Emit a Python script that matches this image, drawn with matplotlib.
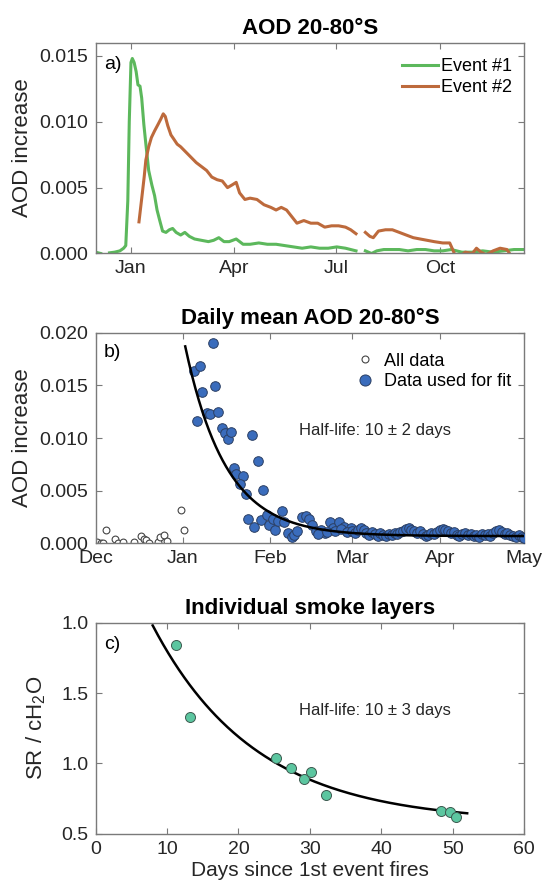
import numpy as np
import matplotlib
matplotlib.use('Agg')
import matplotlib.pyplot as plt
from matplotlib.lines import Line2D

plt.rcParams['font.family'] = ['Liberation Sans', 'DejaVu Sans']
plt.rcParams['mathtext.fontset'] = 'custom'
plt.rcParams['mathtext.rm'] = 'Liberation Sans'
plt.rcParams['mathtext.it'] = 'Liberation Sans'
plt.rcParams['mathtext.default'] = 'regular'

# ---- a) AOD increase per event, days since 1 Jan 2020 (NaN = no data) ----
event1_day = [-31.4, -26.8, -25, -19, -14.5, -9.8, -6.5, -4.6, -2.8, -1.5, 0, 1.2, 2.8, 4.6,
              6.2, 8, 9.5, 11.4, 13.2, 15.7, 18.5, 20.9, 23.1, 25.5, 28, 31, 34, 36.9, 40,
              44, 47.7, 51.7, 56.3, 62.4, 68.6, 73.2, 77.8, 82.4, 87, 93.2, 99.3, 105.5,
              113.2, 120.8, 128.5, 136.2, 143.9, 151.6, 159.3, 167, 174.7, 182.3, 190,
              199.3, 203, 207.6, 213.1, 217.7, 223.9, 230, 237.7, 245.4, 253.1, 260.8,
              268.5, 276.1, 283.8, 293, 302.3, 311.5, 320.7, 330, 339.2, 348.4]
event1_aod = [0.0001, 0.0, np.nan, 0.00005, 0.0001, 0.0002, 0.0004, 0.0006, 0.004, 0.010,
              0.0145, 0.0148, 0.0145, 0.0138, 0.0128, 0.0127, 0.0118, 0.0098, 0.0083,
              0.0063, 0.0052, 0.0044, 0.0033, 0.0025, 0.0017, 0.0016, 0.0018, 0.0019,
              0.0016, 0.0014, 0.0016, 0.0013, 0.0011, 0.0010, 0.0009, 0.0010, 0.0012,
              0.0009, 0.0009, 0.0011, 0.0007, 0.0007, 0.0008, 0.0007, 0.0007, 0.0006,
              0.0005, 0.0004, 0.0005, 0.0004, 0.0004, 0.0005, 0.0004, 0.0002, np.nan,
              0.0002, 0.0, 0.0002, 0.0003, 0.0003, 0.0003, 0.0002, 0.0003, 0.0003, 0.0002,
              0.0002, 0.0003, 0.0001, 0.0001, 0.0002, 0.0001, 0.0002, 0.0003, 0.0003]

event2_day = [7.1, 8.6, 10.1, 11.7, 13.2, 15.7, 18.1, 20.9, 24, 26.4, 28.6, 30.4, 32.6, 35.4,
              37.8, 40.9, 44, 48.6, 53.2, 57.8, 62.4, 67, 71.6, 76.3, 80.9, 85.5, 89.5, 93.2,
              96.2, 100.9, 105.5, 111.6, 117.8, 123.9, 128.5, 133.1, 137.8, 142.4, 147,
              153.1, 159.3, 165.4, 171.6, 177.7, 183.9, 190, 194.6, 199.3, 203, 207.6,
              211.6, 214.6, 219.2, 225.4, 231.5, 237.7, 243.8, 250, 256.1, 262.3, 268.5,
              276.1, 282.3, 284.4, 286.9, 291.5, 296.1, 302.3, 306, 310, 314.6, 320.7,
              326.9, 333, 336.1]
event2_aod = [0.0024, 0.0035, 0.0046, 0.0058, 0.0071, 0.0081, 0.0088, 0.0093, 0.0098, 0.0102,
              0.0106, 0.0104, 0.0097, 0.0090, 0.0087, 0.0083, 0.0081, 0.0077, 0.0073,
              0.0069, 0.0066, 0.0063, 0.0058, 0.0056, 0.0055, 0.0050, 0.0052, 0.0054,
              0.0046, 0.0041, 0.0042, 0.0041, 0.0037, 0.0035, 0.0033, 0.0035, 0.0033,
              0.0028, 0.0023, 0.0025, 0.0023, 0.0023, 0.0020, 0.0021, 0.0021, 0.0020,
              0.0018, 0.0015, np.nan, 0.0016, 0.0013, 0.0012, 0.0017, 0.0018, 0.0018,
              0.0016, 0.0014, 0.0012, 0.0011, 0.0010, 0.0009, 0.0008, 0.0008, 0.0004,
              -0.0001, -0.0002, 0.0001, 0.0, 0.0004, 0.0001, -0.0001, 0.0002, 0.0004,
              0.0003, -0.0001]

month_ticks_a = [0, 91, 182, 274]
month_labels_a = ['Jan', 'Apr', 'Jul', 'Oct']

# ---- b) daily mean AOD, days since 1 Jan 2020 ----
all_day = [-30.4, -29.2, -28.2, -27.3, -24.2, -23.0, -21.2, -17.5, -15.0, -13.8, -13.2,
           -11.9, -8.8, -8.0, -6.8, -5.8, -0.8, 0.4]
all_aod = [0.00016, 0.00007, 0.0, 0.00125, 0.0004, 0.00007, 0.0001, 0.00013, 0.0007,
           0.00046, 0.0003, 0.0, 0.00016, 0.00066, 0.0008, 0.0002, 0.0032, 0.0013]

fit_day = [3.8, 6.2, 6.9, 10.5, 4.8, 8.4, 9.6, 11.3, 12.4, 13.7, 14.9, 15.8, 16.9, 24.3,
           18.0, 18.8, 21.3, 20.1, 22.2, 26.5, 28.4, 23.2, 25.2, 27.7, 29.9, 30.5, 31.8,
           32.6, 33.6, 35.1, 35.8, 37.3, 38.5, 39.5, 40.4, 42.2, 43.5, 44.7, 45.9, 47.2,
           49.0, 50.2, 52.1, 53.3, 55.2, 57.0, 59.5, 48.0, 51.0, 54.0, 56.0, 58.0,
           60, 61, 62, 63, 64, 65, 66, 67, 68, 69, 70, 71, 72, 73, 74, 75, 76, 77, 78,
           79, 80, 81, 82, 83, 84, 85, 86, 87, 88, 89, 90, 91, 92, 93, 94, 95, 96, 97,
           98, 99, 100, 101, 102, 103, 104, 105, 106, 107, 108, 109, 110, 111, 112, 113,
           114, 115, 116, 117, 118, 119, 120, 121]
fit_aod = [0.0164, 0.0168, 0.0144, 0.0190, 0.0116, 0.0124, 0.0123, 0.0149, 0.0125, 0.0110,
           0.0105, 0.0099, 0.0106, 0.0103, 0.0072, 0.0066, 0.0064, 0.0056, 0.0047, 0.0078,
           0.0051, 0.0023, 0.0016, 0.0022, 0.0027, 0.0018, 0.0023, 0.00125, 0.0021,
           0.0031, 0.0020, 0.0010, 0.00066, 0.0008, 0.00115, 0.0025, 0.0026, 0.0023,
           0.0018, 0.00115, 0.0013, 0.0010, 0.0020, 0.0015, 0.0020, 0.0016, 0.0015,
           0.0009, 0.0011, 0.0012, 0.0014, 0.0011,
           0.0012, 0.0010, 0.0013, 0.0015, 0.0013, 0.0010, 0.0008, 0.0011, 0.0009,
           0.0007, 0.0010, 0.0008, 0.0007, 0.0009, 0.0008, 0.0010, 0.0009, 0.0011,
           0.0012, 0.0014, 0.0015, 0.0013, 0.0012, 0.0010, 0.0012, 0.0009, 0.0007,
           0.0008, 0.0010, 0.0009, 0.0011, 0.0013, 0.0014, 0.0013, 0.0012, 0.0010,
           0.0011, 0.0008, 0.0007, 0.0009, 0.0010, 0.0008, 0.0009, 0.0007, 0.0008,
           0.0006, 0.0009, 0.0008, 0.0009, 0.0007, 0.0010, 0.0012, 0.0013, 0.0011,
           0.0009, 0.0010, 0.0008, 0.0007, 0.0006, 0.0008, 0.0006, 0.0005]

# exponential fit, half-life in days
b_half_life = 10
b_start, b_end = 0.8, 121
b_amp, b_offset = 0.0180, 0.0007

month_ticks_b = [-31, 0, 31, 60, 91, 121]
month_labels_b = ['Dec', 'Jan', 'Feb', 'Mar', 'Apr', 'May']

# ---- c) individual smoke layers ----
layer_days = [11.3, 13.25, 25.2, 27.3, 29.2, 30.2, 32.2, 48.4, 49.6, 50.5]
layer_ratio = [1.84, 1.33, 1.037, 0.97, 0.886, 0.94, 0.775, 0.663, 0.653, 0.619]

c_half_life = 10
c_start, c_end = 8.0, 52.0
c_amp, c_offset = 2.443, 0.578

green = '#5cb85c'
brown = '#bd6a3c'
blue = '#3a6cbc'
teal = '#5cc6a0'
spine_col = '#7a7a7a'
text_col = '#262626'

fig = plt.figure(figsize=(5.47, 8.82), dpi=100)
left, width, height = 0.1746, 0.784, 0.239
ax_a = fig.add_axes([left, 0.7126, width, height])
ax_b = fig.add_axes([left, 0.3838, width, height])
ax_c = fig.add_axes([left, 0.0549, width, height])

for ax in (ax_a, ax_b, ax_c):
    for s in ax.spines.values():
        s.set_color(spine_col)
        s.set_linewidth(1.0)
    ax.tick_params(direction='in', length=4, width=0.8, color=spine_col,
                   labelsize=14, labelcolor=text_col, top=True, right=True, pad=5)

# a) AOD time series of the two events
ax_a.plot(event1_day, event1_aod, color=green, lw=2.2, label='Event #1')
ax_a.plot(event2_day, event2_aod, color=brown, lw=2.2, label='Event #2')
ax_a.set_xlim(-31.4, 348.4)
ax_a.set_ylim(0, 0.016)
ax_a.set_yticks([0, 0.005, 0.010, 0.015])
ax_a.set_yticklabels(['0.000', '0.005', '0.010', '0.015'])
ax_a.set_xticks(month_ticks_a)
ax_a.set_xticklabels(month_labels_a)
ax_a.set_title('AOD 20-80°S', fontsize=16, fontweight='bold', pad=6)
ax_a.set_ylabel('AOD increase', fontsize=16, color=text_col)
ax_a.yaxis.set_label_coords(-0.145, 0.5)
ax_a.text(0.02, 0.898, 'a)', transform=ax_a.transAxes, fontsize=14, va='center', color='k')
ax_a.legend(loc='upper right', bbox_to_anchor=(1.0, 0.985), frameon=False, fontsize=13,
            handlelength=2.0, handletextpad=0.15, labelspacing=0.2, borderaxespad=0.3)

# b) daily means with exponential fit
ax_b.scatter(all_day, all_aod, s=24, facecolor='white', edgecolor='#444444', lw=0.8,
             zorder=2)
ax_b.scatter(fit_day, fit_aod, s=48, facecolor=blue, edgecolor='#2b3f63', lw=0.7, zorder=3)
tb = np.linspace(b_start, b_end, 300)
ax_b.plot(tb, b_offset + b_amp * 2 ** (-(tb - b_start) / b_half_life), color='k', lw=1.8,
          zorder=4)
ax_b.set_xlim(-31, 121)
ax_b.set_ylim(0, 0.020)
ax_b.set_yticks([0, 0.005, 0.010, 0.015, 0.020])
ax_b.set_yticklabels(['0.000', '0.005', '0.010', '0.015', '0.020'])
ax_b.set_xticks(month_ticks_b)
ax_b.set_xticklabels(month_labels_b)
ax_b.set_title('Daily mean AOD 20-80°S', fontsize=16, fontweight='bold', pad=6)
ax_b.set_ylabel('AOD increase', fontsize=16, color=text_col)
ax_b.yaxis.set_label_coords(-0.145, 0.5)
ax_b.text(0.02, 0.906, 'b)', transform=ax_b.transAxes, fontsize=14, va='center', color='k')
ax_b.text(0.474, 0.535, 'Half-life: 10 ± 2 days', transform=ax_b.transAxes, fontsize=12,
          va='center', color=text_col)
handles = [Line2D([], [], ls='none', marker='o', markersize=5, mfc='white', mec='#444444',
                  mew=0.8),
           Line2D([], [], ls='none', marker='o', markersize=8, mfc=blue, mec='#2b3f63',
                  mew=0.7)]
ax_b.legend(handles, ['All data', 'Data used for fit'], loc='upper right',
            bbox_to_anchor=(1.0, 0.965), frameon=False, fontsize=13, handlelength=1.0,
            handletextpad=0.6, labelspacing=0.2, borderaxespad=0.3)

# c) smoke layer ratios with exponential fit
ax_c.scatter(layer_days, layer_ratio, s=52, facecolor=teal, edgecolor='#3d5a50', lw=0.7,
             zorder=3)
tc = np.linspace(c_start, c_end, 300)
ax_c.plot(tc, c_offset + c_amp * 2 ** (-tc / c_half_life), color='k', lw=1.8, zorder=2)
ax_c.set_xlim(0, 60)
ax_c.set_ylim(0.5, 2.0)
ax_c.set_xticks([0, 10, 20, 30, 40, 50, 60])
ax_c.set_yticks([0.5, 1.0, 1.5, 2.0])
ax_c.set_yticklabels(['0.5', '1.0', '1.5', '1.0'])
ax_c.set_title('Individual smoke layers', fontsize=16, fontweight='bold', pad=6)
ax_c.set_ylabel('SR / cH$_2$O', fontsize=16, color=text_col)
ax_c.yaxis.set_label_coords(-0.11, 0.5)
ax_c.set_xlabel('Days since 1st event fires', fontsize=15, color=text_col)
ax_c.xaxis.set_label_coords(0.5, -0.13)
ax_c.text(0.02, 0.898, 'c)', transform=ax_c.transAxes, fontsize=14, va='center', color='k')
ax_c.text(0.474, 0.583, 'Half-life: 10 ± 3 days', transform=ax_c.transAxes, fontsize=12,
          va='center', color=text_col)

fig.savefig('out.png', dpi=100)
